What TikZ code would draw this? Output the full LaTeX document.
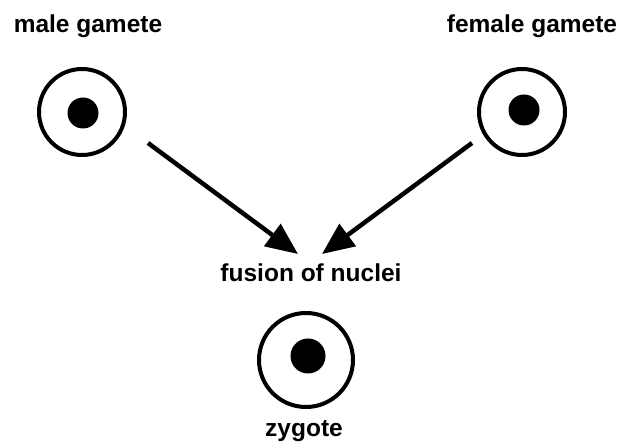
\documentclass[tikz,border=0pt]{standalone}
\usepackage{fontspec}
\setmainfont{Liberation Sans}
\usetikzlibrary{arrows.meta}
\begin{document}
\begin{tikzpicture}[x=1pt,y=-1pt,
  lbl/.style={font=\bfseries\fontsize{24.5}{28}\selectfont, inner sep=0pt, anchor=base},
  cell/.style={circle, draw, line width=4pt, minimum size=86pt, inner sep=0pt},
  nucleus/.style={circle, fill, minimum size=#1, inner sep=0pt},
  arr/.style={line width=4.5pt, -{Triangle[length=32pt,width=27pt]}}]
\useasboundingbox (0,0) rectangle (622,443);
\node[lbl] (ml) at (88,33) {male gamete};
\node[lbl] (fl) at (532,33) {female gamete};
\node[cell] (m) at (82,112) {};
\node[nucleus=31pt] (mn) at (83,113) {};
\node[cell] (f) at (522,112) {};
\node[nucleus=31pt] (fn) at (524,110) {};
\node[lbl] (fus) at (311,282) {fusion of nuclei};
\node[cell, minimum size=94pt] (z) at (306,360) {};
\node[nucleus=35pt] (zn) at (308,356) {};
\node[lbl] (zl) at (304,437) {zygote};
\coordinate (ls) at (148,143);
\coordinate (lt) at (298,254);
\coordinate (rs) at (472,143);
\coordinate (rt) at (322,254);
\draw[arr] (ls) -- (lt);
\draw[arr] (rs) -- (rt);
\end{tikzpicture}
\end{document}
